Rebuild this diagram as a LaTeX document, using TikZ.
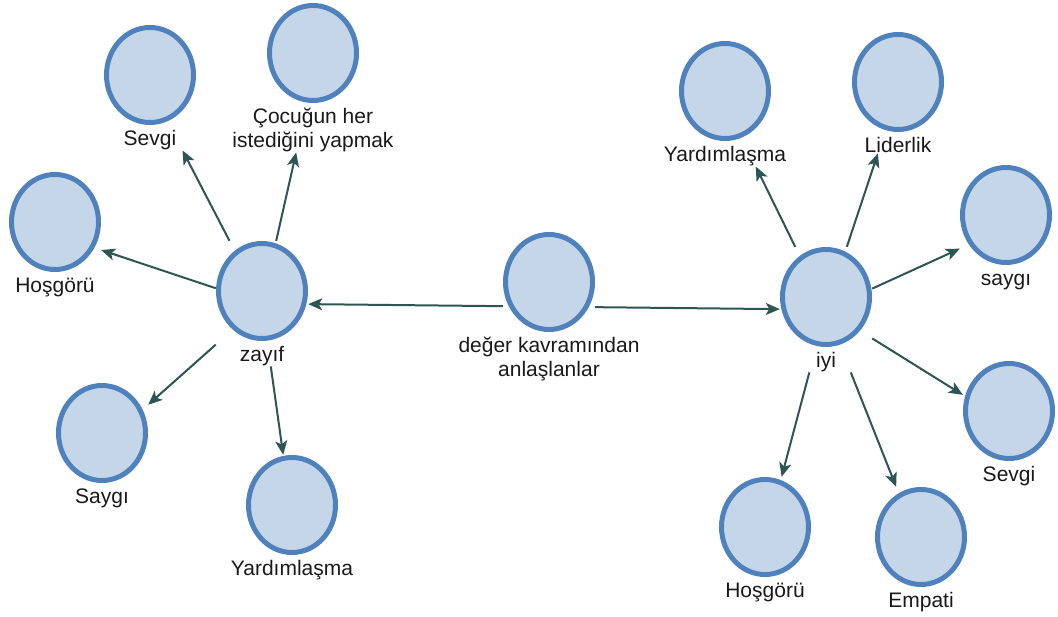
\documentclass[tikz,border=0pt]{standalone}
\usepackage{fontspec}
\setmainfont{Liberation Sans}
\usetikzlibrary{positioning,fit,arrows.meta,shapes.geometric}
\definecolor{halka}{RGB}{79,129,189}
\definecolor{dolgu}{RGB}{198,214,233}
\definecolor{okrengi}{RGB}{45,85,82}
\definecolor{yazi}{RGB}{25,25,25}

\begin{document}
\begin{tikzpicture}[
    x=1pt, y=-1pt,
    font=\fontsize{21}{24}\selectfont,
    daire/.style={ellipse, draw=halka, fill=dolgu, line width=5pt,
      minimum width=87pt, minimum height=95pt, inner sep=0pt},
    etiket/.style={inner sep=0pt, align=center, text=yazi},
    tek/.style={text height=15.5pt},
    iki/.style={text height=39.5pt},
    kutu/.style={rectangle, inner sep=0pt},
    ok/.style={draw=okrengi, line width=2pt,
      -{Stealth[length=14pt, width=12pt, inset=3.5pt]}}
]
  \useasboundingbox (0,0) rectangle (1058,617);
  % circle, text under it, and a box round both for the arrows
  \foreach \ad/\x/\y/\satir/\metin in {
      merkez/549/282/iki/{değer kavramından\\anlaşlanlar},
      zayif/262/291/tek/zayıf,
      iyi/826/297/tek/iyi,
      sevgiA/150/75/tek/Sevgi,
      cocuk/313/53/iki/{Çocuğun her\\istediğini yapmak},
      hosgoruA/55/222/tek/Hoşgörü,
      saygiA/102/433/tek/Saygı,
      yardimA/292/505/tek/Yardımlaşma,
      yardimB/725/91/tek/Yardımlaşma,
      liderlik/898/82/tek/Liderlik,
      saygiB/1006/215/tek/saygı,
      sevgiB/1009/411/tek/Sevgi,
      hosgoruB/765/527/tek/Hoşgörü,
      empati/921/537/tek/Empati}{
    \node[daire] (\ad-c) at (\x,\y) {};
    \node[etiket, \satir, below=5pt of \ad-c] (\ad-l) {\metin};
    \node[kutu, fit=(\ad-c)(\ad-l.south)] (\ad) {};
  }
  \draw[ok] (merkez) -- (zayif);
  \draw[ok] (merkez) -- (iyi);
  \foreach \hedef in {sevgiA, cocuk, hosgoruA, saygiA, yardimA}
    \draw[ok] (zayif) -- (\hedef);
  \foreach \hedef in {yardimB, liderlik, saygiB, sevgiB, empati, hosgoruB}
    \draw[ok] (iyi) -- (\hedef);
\end{tikzpicture}
\end{document}
